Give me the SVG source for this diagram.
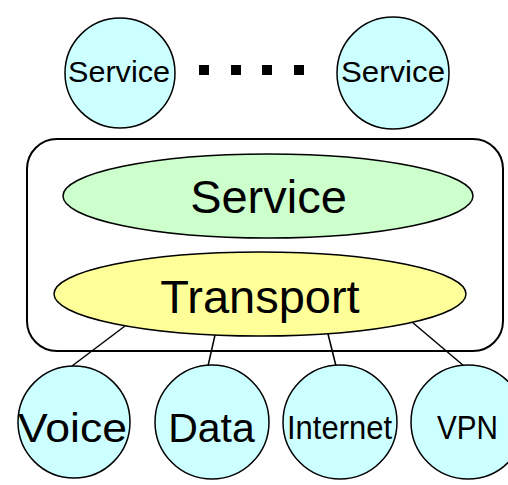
<svg xmlns="http://www.w3.org/2000/svg" width="508" height="485" viewBox="0 0 508 485">
<style>
text { font-family: "Liberation Sans", Arial, sans-serif; fill: #000; text-anchor: middle; }
.node { stroke: #000; stroke-width: 1.5; }
.cyan { fill: #CCFFFF; }
.green { fill: #CCFFCC; }
.yellow { fill: #FFFF99; }
.conn line { stroke: #000; stroke-width: 1.5; }
.dot { fill: #000; }
</style>
<rect width="508" height="485" fill="#fff"/>
<g id="container">
  <rect x="27" y="139" width="476" height="212" rx="30" ry="30" fill="#fff" stroke="#000" stroke-width="2"/>
</g>
<g id="connectors" class="conn">
  <line x1="125" y1="326" x2="72" y2="366"/>
  <line x1="215" y1="335" x2="208" y2="366"/>
  <line x1="328" y1="334" x2="336" y2="366"/>
  <line x1="412" y1="322" x2="464" y2="366"/>
</g>
<g id="service-top-left">
  <circle class="node cyan" cx="120" cy="73" r="55"/>
  <text x="119" y="82" font-size="30" textLength="102" lengthAdjust="spacingAndGlyphs">Service</text>
</g>
<g id="ellipsis">
  <rect class="dot" x="199" y="65" width="10" height="10"/>
  <rect class="dot" x="231" y="65" width="10" height="10"/>
  <rect class="dot" x="262" y="65" width="10" height="10"/>
  <rect class="dot" x="294" y="65" width="10" height="10"/>
</g>
<g id="service-top-right">
  <circle class="node cyan" cx="393" cy="73" r="56"/>
  <text x="393" y="82" font-size="30" textLength="104" lengthAdjust="spacingAndGlyphs">Service</text>
</g>
<g id="service-layer">
  <ellipse class="node green" cx="268" cy="196" rx="205" ry="42"/>
  <text x="268.5" y="213" font-size="47">Service</text>
</g>
<g id="transport-layer">
  <ellipse class="node yellow" cx="260" cy="294" rx="206" ry="42"/>
  <text x="260" y="313" font-size="47">Transport</text>
</g>
<g id="voice">
  <circle class="node cyan" cx="74" cy="422" r="56"/>
  <text x="72.5" y="442" font-size="41" textLength="109" lengthAdjust="spacingAndGlyphs">Voice</text>
</g>
<g id="data">
  <circle class="node cyan" cx="212" cy="422" r="57"/>
  <text x="211.5" y="442" font-size="41">Data</text>
</g>
<g id="internet">
  <circle class="node cyan" cx="340" cy="422" r="57"/>
  <text x="339.5" y="439" font-size="33" textLength="105" lengthAdjust="spacingAndGlyphs">Internet</text>
</g>
<g id="vpn">
  <circle class="node cyan" cx="468" cy="422" r="57"/>
  <text x="467.5" y="439" font-size="33" textLength="61" lengthAdjust="spacingAndGlyphs">VPN</text>
</g>
</svg>
